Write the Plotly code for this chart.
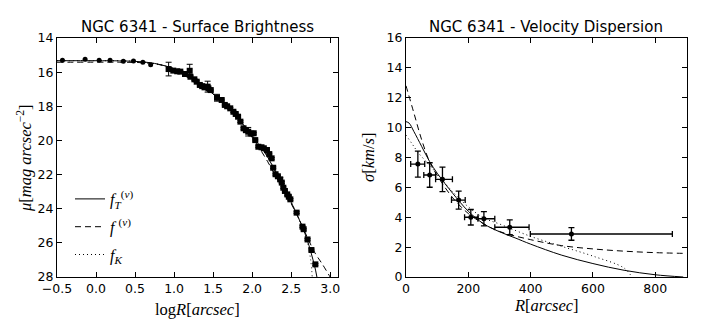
import plotly.graph_objects as go
from plotly.subplots import make_subplots

# surface brightness: inner points (circles)
sb_logr_in = [-0.43, -0.14, 0.04, 0.18, 0.35, 0.48, 0.60, 0.70]
sb_mu_in = [15.30, 15.25, 15.30, 15.30, 15.36, 15.34, 15.42, 15.56]

# surface brightness: outer points (squares)
sb_logr = [0.93, 0.99, 1.04, 1.08, 1.14, 1.20, 1.21, 1.26, 1.29, 1.33, 1.36, 1.39, 1.43, 1.44,
           1.47, 1.55, 1.61, 1.65, 1.68, 1.72, 1.76, 1.79, 1.82, 1.85, 1.89, 1.92, 1.95, 1.99,
           2.02, 2.04, 2.08, 2.12, 2.15, 2.19, 2.22, 2.25, 2.27, 2.30, 2.33, 2.36, 2.38, 2.40,
           2.42, 2.45, 2.47, 2.49, 2.57, 2.645, 2.66, 2.71, 2.76, 2.81]
sb_mu = [15.82, 15.91, 15.95, 15.97, 16.11, 15.92, 16.27, 16.42, 16.56, 16.75, 16.82, 16.89, 16.85, 16.95,
         17.05, 17.50, 17.63, 17.92, 18.00, 18.12, 18.32, 18.45, 18.61, 18.90, 19.29, 19.40, 19.49, 19.60,
         19.58, 19.98, 20.37, 20.40, 20.46, 20.56, 20.80, 21.05, 21.60, 21.98, 22.10, 22.28, 22.47, 22.77,
         22.96, 23.16, 23.30, 23.45, 24.23, 25.05, 25.20, 25.80, 26.42, 27.26]
sb_err = [0.40, 0.05, 0.05, 0.05, 0.05, 0.38, 0.05, 0.05, 0.05, 0.05, 0.05, 0.05, 0.32, 0.05,
          0.05, 0.20, 0.05, 0.05, 0.05, 0.05, 0.05, 0.05, 0.05, 0.05, 0.05, 0.05, 0.25, 0.05,
          0.05, 0.05, 0.05, 0.05, 0.05, 0.05, 0.05, 0.05, 0.05, 0.05, 0.05, 0.10, 0.05, 0.05,
          0.05, 0.05, 0.05, 0.05, 0.05, 0.05, 0.05, 0.05, 0.05, 0.05]

# surface brightness models
fT_logr = [-0.5, 0.0, 0.3, 0.5, 0.7, 0.9, 1.0, 1.1, 1.2, 1.3, 1.4, 1.5, 1.6, 1.7, 1.8, 1.9,
           2.0, 2.1, 2.2, 2.3, 2.4, 2.5, 2.6, 2.7, 2.8, 2.83]
fT_mu = [15.33, 15.33, 15.34, 15.37, 15.45, 15.65, 15.80, 16.00, 16.25, 16.55, 16.90, 17.28, 17.68, 18.12,
         18.60, 19.15, 19.75, 20.32, 20.98, 21.85, 22.72, 23.62, 24.60, 25.75, 27.35, 28.0]
f_logr = [-0.5, 0.3, 0.6, 0.8, 1.0, 1.2, 1.4, 1.6, 1.8, 2.0, 2.1, 2.2, 2.3, 2.4, 2.5, 2.6,
          2.7, 2.8, 2.9, 3.0]
f_mu = [15.42, 15.42, 15.45, 15.55, 15.80, 16.25, 16.90, 17.68, 18.62, 19.82, 20.50, 21.25, 22.08, 22.90,
        23.70, 24.60, 25.60, 26.55, 27.25, 28.0]
fK_logr = [-0.5, 0.0, 0.5, 0.9, 1.2, 1.5, 1.8, 2.0, 2.2, 2.4, 2.6, 2.7, 2.75, 2.77]
fK_mu = [15.33, 15.33, 15.37, 15.65, 16.25, 17.28, 18.60, 19.75, 20.98, 22.72, 24.60, 25.80, 27.00, 28.0]

# velocity dispersion data
vd_r = [38, 76, 117, 169, 208, 250, 333, 531]
vd_sig = [7.56, 6.83, 6.54, 5.15, 4.00, 3.90, 3.33, 2.88]
vd_sig_err = [0.87, 0.82, 0.82, 0.60, 0.52, 0.48, 0.50, 0.42]
vd_r_lo = [15, 57, 95, 146, 188, 231, 285, 399]
vd_r_hi = [60, 95, 149, 190, 231, 285, 395, 855]

# velocity dispersion models
sT_r = [0, 10, 25, 50, 76, 100, 125, 150, 200, 250, 300, 350, 400, 500, 600, 700, 800, 890]
sT_sig = [10.4, 10.3, 9.75, 8.75, 7.72, 6.95, 6.25, 5.6, 4.4, 3.55, 3.03, 2.62, 2.2, 1.46, 0.9, 0.45, 0.15, 0.0]
s_r = [0, 25, 50, 75, 100, 150, 200, 250, 300, 400, 500, 600, 700, 800, 900]
s_sig = [12.8, 11.0, 9.2, 7.75, 6.8, 5.3, 4.25, 3.55, 3.05, 2.5, 2.1, 1.88, 1.73, 1.63, 1.58]
sK_r = [0, 20, 40, 75, 100, 150, 200, 250, 300, 400, 500, 600, 700, 725]
sK_sig = [9.5, 8.9, 8.3, 7.5, 6.9, 5.7, 4.7, 3.95, 3.55, 2.72, 2.05, 1.4, 0.6, 0.0]

math_font = "Liberation Serif"
W, H = 706, 332
ML, MR, MT, MB = 57, 19, 38, 55


def px_x(p):
    return (p - ML) / (W - ML - MR)


def px_y(p):
    return (H - MB - p) / (H - MT - MB)


fig = make_subplots(rows=1, cols=2, horizontal_spacing=0.108)

line_k = dict(color="black", width=1)
fig.add_trace(go.Scatter(x=fT_logr, y=fT_mu, mode="lines", line=dict(line_k, shape="spline"),
                         name="<i>f</i><sub><i>T</i></sub><sup>(<i>ν</i>)</sup>", legendgroup="a"), 1, 1)
fig.add_trace(go.Scatter(x=f_logr, y=f_mu, mode="lines", line=dict(line_k, shape="spline", dash="6px,4px"),
                         name="<i>f</i> <sup>(<i>ν</i>)</sup>", legendgroup="b"), 1, 1)
fig.add_trace(go.Scatter(x=fK_logr, y=fK_mu, mode="lines", line=dict(line_k, shape="spline", dash="1px,3px"),
                         name="<i>f</i><sub><i>K</i></sub>", legendgroup="c"), 1, 1)
fig.add_trace(go.Scatter(x=sb_logr_in, y=sb_mu_in, mode="markers", showlegend=False,
                         marker=dict(symbol="circle", size=5, color="black")), 1, 1)
fig.add_trace(go.Scatter(x=sb_logr, y=sb_mu, mode="markers", showlegend=False,
                         marker=dict(symbol="square", size=6, color="black"),
                         error_y=dict(type="data", array=sb_err, color="black", thickness=1, width=3)), 1, 1)

fig.add_trace(go.Scatter(x=sT_r, y=sT_sig, mode="lines", line=dict(line_k, shape="spline"), showlegend=False), 1, 2)
fig.add_trace(go.Scatter(x=s_r, y=s_sig, mode="lines", line=dict(line_k, shape="spline", dash="6px,4px"),
                         showlegend=False), 1, 2)
fig.add_trace(go.Scatter(x=sK_r, y=sK_sig, mode="lines", line=dict(line_k, shape="spline", dash="1px,3px"),
                         showlegend=False), 1, 2)
fig.add_trace(go.Scatter(x=vd_r, y=vd_sig, mode="markers", showlegend=False,
                         marker=dict(symbol="circle", size=5, color="black"),
                         error_y=dict(type="data", array=vd_sig_err, color="black", thickness=1.3, width=3),
                         error_x=dict(type="data", symmetric=False,
                                      array=[h - r for h, r in zip(vd_r_hi, vd_r)],
                                      arrayminus=[r - l for r, l in zip(vd_r, vd_r_lo)],
                                      color="black", thickness=1.3, width=3)), 1, 2)

axis_style = dict(showline=True, linecolor="black", linewidth=1.3, mirror="ticks", ticks="inside",
                  ticklen=5, tickwidth=1, tickcolor="black", showgrid=False, zeroline=False,
                  automargin=False, tickfont=dict(family="DejaVu Sans", size=12.5, color="black"))

fig.update_xaxes(axis_style)
fig.update_yaxes(axis_style)
fig.update_xaxes(range=[-0.5, 3.1], dtick=0.5, tickformat=".1f", row=1, col=1)
fig.update_yaxes(range=[28, 14], dtick=2, row=1, col=1)
fig.update_xaxes(range=[0, 902], dtick=200, row=1, col=2)
fig.update_yaxes(range=[0, 16], dtick=2, row=1, col=2)

title_font = dict(family="DejaVu Sans", size=15, color="black")
label_font = dict(family=math_font, size=16.5, color="black")
texts = [
    ("NGC 6341 - Surface Brightness", 197, 27, 0, title_font),
    ("NGC 6341 - Velocity Dispersion", 546, 27, 0, title_font),
    ("log<i>R</i>[<i>arcsec</i>]", 197, 309, 0, label_font),
    ("<i>R</i>[<i>arcsec</i>]", 546, 305, 0, label_font),
    ("<i>μ</i>[<i>mag arcsec</i><sup>−2</sup>]", 24, 158, -90, label_font),
    ("<i>σ</i>[<i>km</i>/<i>s</i>]", 368, 158, -90, label_font),
]
for txt, x, y, ang, fnt in texts:
    fig.add_annotation(text=txt, x=px_x(x), y=px_y(y), xref="paper", yref="paper",
                       xanchor="center", yanchor="middle", textangle=ang, showarrow=False, font=fnt)

fig.update_layout(
    width=W, height=H,
    margin=dict(l=ML, r=MR, t=MT, b=MB),
    plot_bgcolor="white", paper_bgcolor="white",
    showlegend=True,
    legend=dict(x=px_x(70), y=px_y(182), xanchor="left", yanchor="top", bgcolor="rgba(0,0,0,0)",
                font=dict(family=math_font, size=16, color="black"), tracegroupgap=4, itemwidth=30),
)

# drop the browser's default page margin so the figure sits at the window origin
fig.write_html("out.html", config={"displayModeBar": False},
               post_script="document.body.style.margin='0';")
